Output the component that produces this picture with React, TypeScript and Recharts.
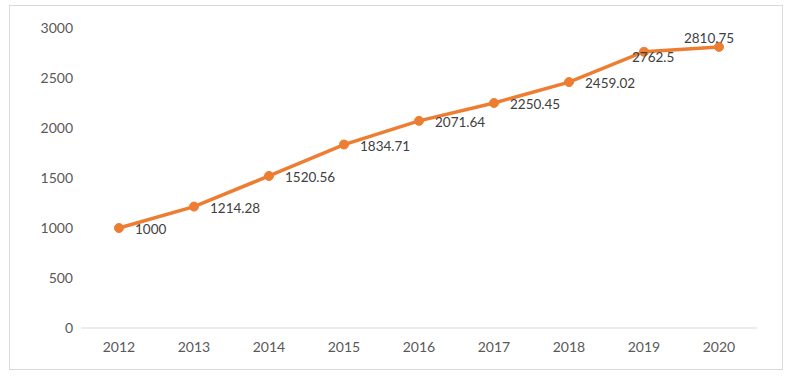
import React from "react";
import { LineChart, Line, XAxis, YAxis, LabelList } from "recharts";

const years = ["2012", "2013", "2014", "2015", "2016", "2017", "2018", "2019", "2020"];
const values = [1000, 1214.28, 1520.56, 1834.71, 2071.64, 2250.45, 2459.02, 2762.5, 2810.75];
const yTicks = [0, 500, 1000, 1500, 2000, 2500, 3000];

const data = years.map((y, i) => ({ year: y, value: values[i] }));

const FONT = "Lato, 'Open Sans', 'Liberation Sans', sans-serif";

const ValueLabel = (props: any) => {
  const { x, y, index, value } = props;
  let tx = x + 16;
  let ty = y + 6;
  let anchor: "start" | "middle" | "end" = "start";
  if (index === 7) {
    tx = x - 12;
    ty = y + 10;
  } else if (index === 8) {
    tx = x - 10;
    ty = y - 4;
    anchor = "middle";
  }
  return (
    <text x={tx} y={ty} textAnchor={anchor} fontSize={13.5} fill="#404040" fontFamily={FONT}>
      {value}
    </text>
  );
};

export default function App() {
  return (
    <div style={{ position: "absolute", left: 0, top: 0, width: 793, height: 378, background: "#fff" }}>
      <div
        style={{
          position: "absolute",
          left: 9,
          top: 5,
          width: 772,
          height: 363,
          border: "1px solid #d9d9d9",
        }}
      />
      <div style={{ position: "absolute", left: 0, top: 0 }}>
        <LineChart width={793} height={378} data={data} margin={{ top: 28, right: 36, bottom: 0, left: 0 }}>
          <XAxis
            dataKey="year"
            axisLine={{ stroke: "#d9d9d9" }}
            tickLine={false}
            tickMargin={8}
            padding={{ left: 38, right: 38 }}
            tick={{ fill: "#595959", fontSize: 14, fontFamily: FONT }}
            height={50}
          />
          <YAxis
            width={81}
            domain={[0, 3000]}
            ticks={yTicks}
            axisLine={false}
            tickLine={false}
            tick={{ fill: "#595959", fontSize: 14, fontFamily: FONT }}
          />
          <Line
            dataKey="value"
            stroke="#ED7D31"
            strokeWidth={3.5}
            dot={{ r: 4.5, fill: "#ED7D31", stroke: "#ED7D31", strokeWidth: 1 }}
            isAnimationActive={false}
          >
            <LabelList dataKey="value" content={<ValueLabel />} />
          </Line>
        </LineChart>
      </div>
    </div>
  );
}
